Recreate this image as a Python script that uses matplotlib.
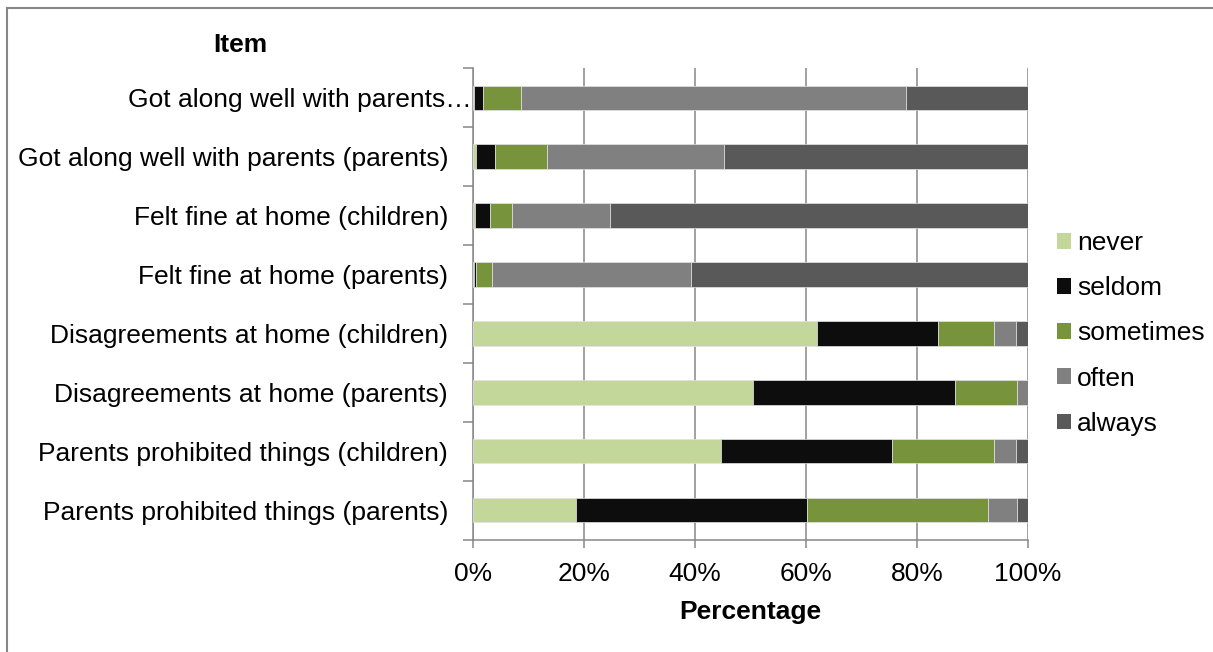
import matplotlib.pyplot as plt
import matplotlib.patches as mpatches
from matplotlib.lines import Line2D
from matplotlib.ticker import FixedLocator, PercentFormatter
from matplotlib.transforms import ScaledTranslation
import numpy as np

plt.rcParams['font.family'] = ['Liberation Sans', 'DejaVu Sans']

# Survey items, top to bottom
items = [
    'Got along well with parents\u2026',
    'Got along well with parents (parents)',
    'Felt fine at home (children)',
    'Felt fine at home (parents)',
    'Disagreements at home (children)',
    'Disagreements at home (parents)',
    'Parents prohibited things (children)',
    'Parents prohibited things (parents)',
]

# Answer shares in percent
never = [0.1, 0.5, 0.4, 0.1, 62.0, 50.5, 44.6, 18.5]
seldom = [1.7, 3.5, 2.6, 0.4, 21.7, 36.4, 30.8, 41.7]
sometimes = [6.8, 9.4, 4.1, 2.9, 10.1, 11.2, 18.4, 32.5]
often = [69.4, 31.8, 17.5, 35.8, 4.1, 1.9, 4.1, 5.4]
always = [22.0, 54.8, 75.4, 60.8, 2.1, 0.0, 2.1, 1.9]

categories = ['never', 'seldom', 'sometimes', 'often', 'always']
colors = ['#C4D79B', '#0D0D0D', '#77933C', '#808080', '#595959']
series = [never, seldom, sometimes, often, always]

FS = 19

fig = plt.figure(figsize=(12.13, 6.52), dpi=100)
ax = fig.add_axes([0.390, 0.172, 0.4575, 0.7235])

y = np.arange(len(items))
left = np.zeros(len(items))
for vals, col in zip(series, colors):
    vals = np.array(vals)
    ax.barh(y, vals, left=left, height=0.41, color=col,
            edgecolor='#e4e4e4', linewidth=0.5, zorder=3)
    left += vals

ax.set_xlim(0, 100)
ax.set_ylim(len(items) - 0.5, -0.5)

# x axis
ax.xaxis.set_major_locator(FixedLocator([0, 20, 40, 60, 80, 100]))
ax.xaxis.set_major_formatter(PercentFormatter(decimals=0))
ax.grid(axis='x', color='#878787', linewidth=1.1, zorder=0)
ax.tick_params(axis='x', length=6, width=1.1, color='#878787',
               labelsize=FS, pad=10)

# y axis: labels centred on bars, tick marks on category boundaries
ax.set_yticks(y)
ax.set_yticklabels(items)
ax.yaxis.set_minor_locator(FixedLocator(np.arange(-0.5, len(items), 1.0)))
ax.tick_params(axis='y', which='major', length=0, labelsize=FS, pad=18)
ax.tick_params(axis='y', which='minor', length=7, width=1.1, color='#878787')

# the truncated label runs up to the axis line
first = ax.get_yticklabels()[0]
first.set_transform(first.get_transform()
                    + ScaledTranslation(0.24, 0, fig.dpi_scale_trans))

for side in ['top', 'right']:
    ax.spines[side].set_visible(False)
for side in ['left', 'bottom']:
    ax.spines[side].set_color('#878787')
    ax.spines[side].set_linewidth(1.1)

fig.text(240 / 1213, 1 - 45 / 652, 'Item', ha='center', va='center',
         fontsize=FS, fontweight='bold')
fig.text(750 / 1213, 1 - 612 / 652, 'Percentage', ha='center', va='center',
         fontsize=FS, fontweight='bold')

handles = [mpatches.Patch(facecolor=c, edgecolor='none') for c in colors]
fig.legend(handles, categories, loc='center left',
           bbox_to_anchor=(1057 / 1213, 1 - 333.5 / 652), frameon=False,
           fontsize=FS, handlelength=0.53, handleheight=0.53,
           handletextpad=0.23, labelspacing=0.8, borderpad=0,
           borderaxespad=0)

# outer chart frame (left and top edges)
fig.add_artist(Line2D([6.5 / 1213, 6.5 / 1213], [0, 1 - 7.5 / 652],
                      color='#878787', linewidth=1.5))
fig.add_artist(Line2D([6.5 / 1213, 1], [1 - 7.5 / 652, 1 - 7.5 / 652],
                      color='#878787', linewidth=1.5))

fig.savefig('out.png', dpi=100, facecolor='white')
